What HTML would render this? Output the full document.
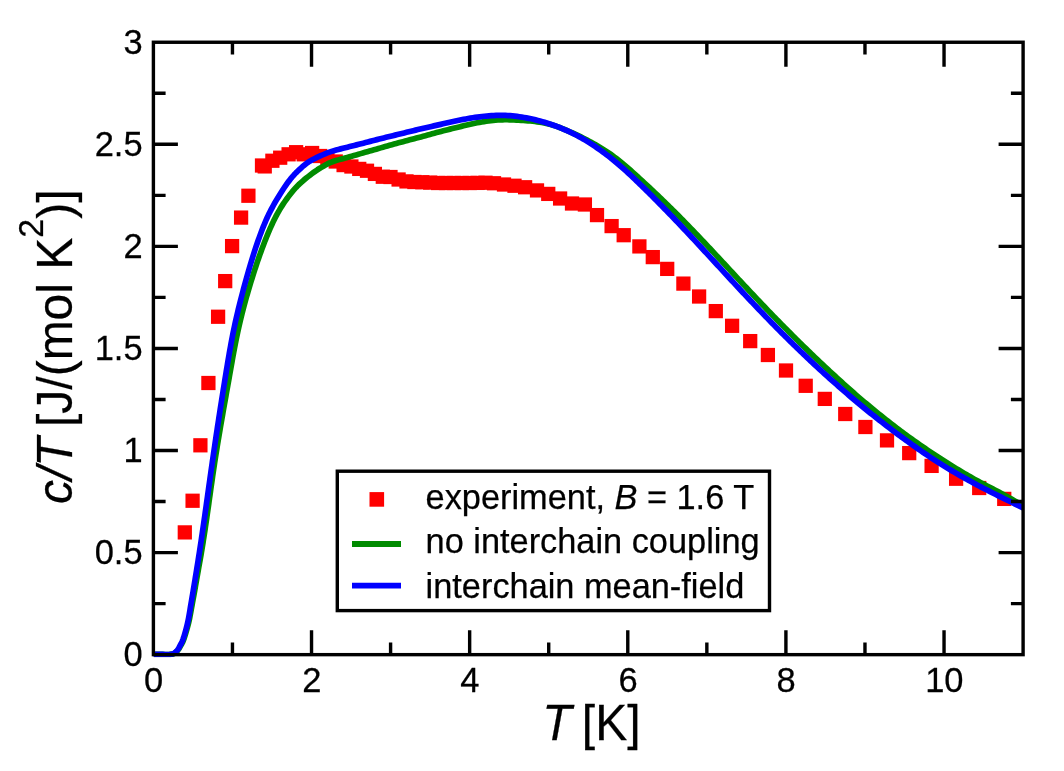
<!DOCTYPE html>
<html><head><meta charset="utf-8"><title>c/T vs T</title>
<style>html,body{margin:0;padding:0;background:#fff;}svg{display:block;}</style>
</head><body>
<svg width="1064" height="771" viewBox="0 0 1064 771">
<rect width="1064" height="771" fill="#fff"/>
<defs><clipPath id="c"><rect x="153.40" y="42.25" width="869.70" height="615.00"/></clipPath></defs>
<g fill="#ff0000">
<rect x="177.68" y="525.27" width="14.25" height="14.25"/>
<rect x="185.47" y="493.62" width="14.25" height="14.25"/>
<rect x="193.28" y="438.18" width="14.25" height="14.25"/>
<rect x="201.28" y="375.88" width="14.25" height="14.25"/>
<rect x="210.97" y="309.62" width="14.25" height="14.25"/>
<rect x="218.07" y="273.98" width="14.25" height="14.25"/>
<rect x="224.97" y="238.97" width="14.25" height="14.25"/>
<rect x="233.97" y="210.47" width="14.25" height="14.25"/>
<rect x="241.28" y="188.62" width="14.25" height="14.25"/>
<rect x="254.88" y="158.38" width="14.25" height="14.25"/>
<rect x="257.62" y="159.28" width="14.25" height="14.25"/>
<rect x="265.27" y="153.62" width="14.25" height="14.25"/>
<rect x="273.07" y="150.57" width="14.25" height="14.25"/>
<rect x="281.48" y="147.18" width="14.25" height="14.25"/>
<rect x="288.98" y="145.07" width="14.25" height="14.25"/>
<rect x="296.57" y="147.18" width="14.25" height="14.25"/>
<rect x="304.98" y="145.88" width="14.25" height="14.25"/>
<rect x="312.98" y="148.88" width="14.25" height="14.25"/>
<rect x="320.27" y="150.88" width="14.25" height="14.25"/>
<rect x="328.62" y="154.38" width="14.25" height="14.25"/>
<rect x="336.48" y="157.97" width="14.25" height="14.25"/>
<rect x="344.27" y="159.38" width="14.25" height="14.25"/>
<rect x="352.12" y="161.78" width="14.25" height="14.25"/>
<rect x="359.88" y="163.62" width="14.25" height="14.25"/>
<rect x="367.77" y="166.78" width="14.25" height="14.25"/>
<rect x="375.68" y="169.62" width="14.25" height="14.25"/>
<rect x="383.38" y="169.88" width="14.25" height="14.25"/>
<rect x="391.48" y="172.38" width="14.25" height="14.25"/>
<rect x="399.38" y="174.28" width="14.25" height="14.25"/>
<rect x="407.27" y="174.88" width="14.25" height="14.25"/>
<rect x="415.18" y="175.12" width="14.25" height="14.25"/>
<rect x="423.07" y="175.47" width="14.25" height="14.25"/>
<rect x="430.98" y="175.88" width="14.25" height="14.25"/>
<rect x="438.88" y="175.88" width="14.25" height="14.25"/>
<rect x="446.77" y="175.88" width="14.25" height="14.25"/>
<rect x="454.68" y="175.88" width="14.25" height="14.25"/>
<rect x="462.57" y="175.88" width="14.25" height="14.25"/>
<rect x="470.48" y="175.78" width="14.25" height="14.25"/>
<rect x="478.38" y="175.62" width="14.25" height="14.25"/>
<rect x="486.88" y="176.12" width="14.25" height="14.25"/>
<rect x="496.88" y="177.38" width="14.25" height="14.25"/>
<rect x="507.38" y="178.62" width="14.25" height="14.25"/>
<rect x="517.98" y="180.12" width="14.25" height="14.25"/>
<rect x="529.88" y="183.28" width="14.25" height="14.25"/>
<rect x="541.12" y="186.78" width="14.25" height="14.25"/>
<rect x="552.98" y="191.38" width="14.25" height="14.25"/>
<rect x="564.88" y="196.38" width="14.25" height="14.25"/>
<rect x="577.77" y="197.38" width="14.25" height="14.25"/>
<rect x="589.88" y="207.97" width="14.25" height="14.25"/>
<rect x="604.48" y="218.97" width="14.25" height="14.25"/>
<rect x="616.58" y="228.07" width="14.25" height="14.25"/>
<rect x="632.27" y="239.28" width="14.25" height="14.25"/>
<rect x="645.67" y="249.98" width="14.25" height="14.25"/>
<rect x="660.08" y="261.77" width="14.25" height="14.25"/>
<rect x="676.27" y="276.48" width="14.25" height="14.25"/>
<rect x="691.98" y="289.38" width="14.25" height="14.25"/>
<rect x="708.67" y="303.98" width="14.25" height="14.25"/>
<rect x="724.98" y="318.68" width="14.25" height="14.25"/>
<rect x="743.08" y="333.98" width="14.25" height="14.25"/>
<rect x="760.77" y="347.88" width="14.25" height="14.25"/>
<rect x="778.88" y="363.38" width="14.25" height="14.25"/>
<rect x="798.58" y="378.68" width="14.25" height="14.25"/>
<rect x="817.67" y="391.77" width="14.25" height="14.25"/>
<rect x="838.12" y="406.88" width="14.25" height="14.25"/>
<rect x="858.27" y="419.88" width="14.25" height="14.25"/>
<rect x="879.88" y="433.27" width="14.25" height="14.25"/>
<rect x="902.08" y="445.98" width="14.25" height="14.25"/>
<rect x="924.48" y="458.77" width="14.25" height="14.25"/>
<rect x="948.98" y="471.62" width="14.25" height="14.25"/>
<rect x="972.08" y="480.88" width="14.25" height="14.25"/>
<rect x="997.12" y="491.77" width="14.25" height="14.25"/>
</g>
<g fill="none" stroke-width="5.7" stroke-linejoin="round" clip-path="url(#c)">
<path stroke="#008b00" d="M153.50,654.50 L155.88,654.36 L158.21,654.33 L160.52,654.38 L162.80,654.45 L165.09,654.50 L167.38,654.50 L169.71,654.41 L172.06,654.17 L174.28,653.52 L176.10,652.11 L177.73,650.44 L179.05,648.55 L180.18,646.51 L181.38,644.53 L182.48,642.50 L183.41,640.38 L184.21,638.20 L184.93,635.98 L185.61,633.75 L186.27,631.52 L186.91,629.29 L187.53,627.06 L188.12,624.82 L188.67,622.57 L189.18,620.31 L189.65,618.05 L190.09,615.77 L190.52,613.49 L190.93,611.21 L191.33,608.92 L191.75,606.64 L192.17,604.36 L192.59,602.08 L193.01,599.80 L193.44,597.52 L193.86,595.24 L194.27,592.96 L194.68,590.68 L195.08,588.40 L195.48,586.12 L195.88,583.83 L196.28,581.55 L196.67,579.27 L197.07,576.98 L197.47,574.70 L197.87,572.41 L198.28,570.13 L198.69,567.85 L199.10,565.57 L199.51,563.29 L199.92,561.01 L200.33,558.72 L200.72,556.44 L201.12,554.16 L201.50,551.87 L201.89,549.59 L202.26,547.30 L202.63,545.01 L203.00,542.72 L203.36,540.43 L203.72,538.14 L204.08,535.85 L204.43,533.56 L204.78,531.27 L205.12,528.98 L205.46,526.68 L205.80,524.39 L206.13,522.10 L206.47,519.80 L206.80,517.51 L207.13,515.21 L207.45,512.92 L207.78,510.62 L208.10,508.33 L208.43,506.03 L208.75,503.74 L209.07,501.44 L209.39,499.14 L209.71,496.85 L210.04,494.55 L210.36,492.26 L210.68,489.96 L211.00,487.66 L211.33,485.37 L211.66,483.07 L211.98,480.78 L212.31,478.48 L212.64,476.19 L212.98,473.89 L213.31,471.60 L213.65,469.31 L213.99,467.01 L214.34,464.72 L214.69,462.43 L215.04,460.14 L215.39,457.85 L215.75,455.56 L216.11,453.27 L216.48,450.98 L216.85,448.69 L217.22,446.41 L217.59,444.12 L217.97,441.83 L218.34,439.54 L218.73,437.26 L219.11,434.97 L219.49,432.69 L219.88,430.40 L220.27,428.12 L220.66,425.83 L221.06,423.55 L221.45,421.26 L221.85,418.98 L222.25,416.70 L222.65,414.41 L223.05,412.13 L223.45,409.85 L223.85,407.56 L224.26,405.28 L224.66,403.00 L225.07,400.72 L225.47,398.43 L225.88,396.15 L226.28,393.87 L226.69,391.59 L227.10,389.30 L227.51,387.02 L227.91,384.74 L228.32,382.46 L228.73,380.17 L229.13,377.89 L229.54,375.61 L229.94,373.32 L230.35,371.04 L230.75,368.76 L231.16,366.47 L231.56,364.19 L231.97,361.91 L232.38,359.62 L232.79,357.34 L233.20,355.06 L233.62,352.78 L234.05,350.50 L234.47,348.22 L234.91,345.95 L235.35,343.67 L235.79,341.40 L236.25,339.12 L236.71,336.85 L237.18,334.58 L237.66,332.32 L238.15,330.05 L238.65,327.79 L239.16,325.53 L239.68,323.27 L240.21,321.01 L240.75,318.76 L241.30,316.51 L241.86,314.26 L242.43,312.01 L243.01,309.76 L243.59,307.52 L244.19,305.28 L244.80,303.04 L245.41,300.81 L246.03,298.57 L246.66,296.34 L247.30,294.11 L247.94,291.88 L248.59,289.66 L249.25,287.43 L249.92,285.21 L250.59,282.99 L251.27,280.77 L251.95,278.56 L252.64,276.34 L253.34,274.13 L254.05,271.92 L254.76,269.71 L255.48,267.51 L256.21,265.31 L256.94,263.11 L257.69,260.91 L258.44,258.72 L259.21,256.53 L259.98,254.35 L260.77,252.17 L261.56,249.99 L262.37,247.81 L263.18,245.64 L264.01,243.48 L264.85,241.32 L265.70,239.16 L266.57,237.01 L267.44,234.86 L268.34,232.72 L269.24,230.58 L270.16,228.45 L271.10,226.33 L272.06,224.22 L273.05,222.12 L274.06,220.03 L275.09,217.96 L276.16,215.90 L277.26,213.86 L278.39,211.83 L279.55,209.83 L280.75,207.84 L281.98,205.88 L283.25,203.93 L284.54,202.01 L285.87,200.10 L287.22,198.22 L288.61,196.35 L290.03,194.51 L291.47,192.69 L292.95,190.90 L294.47,189.15 L296.03,187.43 L297.63,185.76 L299.28,184.13 L300.98,182.56 L302.72,181.03 L304.49,179.53 L306.29,178.07 L308.11,176.62 L309.94,175.19 L311.78,173.78 L313.64,172.40 L315.53,171.06 L317.45,169.77 L319.41,168.53 L321.40,167.33 L323.41,166.17 L325.43,165.03 L327.48,163.93 L329.56,162.91 L331.69,162.01 L333.86,161.22 L336.08,160.52 L338.31,159.88 L340.55,159.27 L342.79,158.65 L345.03,158.03 L347.26,157.41 L349.49,156.79 L351.72,156.16 L353.95,155.53 L356.18,154.90 L358.41,154.26 L360.63,153.63 L362.86,152.99 L365.09,152.36 L367.32,151.72 L369.55,151.08 L371.77,150.44 L374.00,149.80 L376.23,149.16 L378.46,148.52 L380.69,147.88 L382.92,147.25 L385.15,146.61 L387.38,145.98 L389.61,145.35 L391.84,144.72 L394.07,144.09 L396.31,143.47 L398.54,142.86 L400.78,142.25 L403.02,141.65 L405.26,141.05 L407.50,140.45 L409.74,139.86 L411.98,139.27 L414.22,138.68 L416.46,138.08 L418.70,137.48 L420.94,136.88 L423.17,136.27 L425.41,135.66 L427.64,135.04 L429.88,134.43 L432.12,133.81 L434.35,133.20 L436.59,132.60 L438.83,132.00 L441.07,131.41 L443.31,130.83 L445.56,130.25 L447.81,129.68 L450.05,129.12 L452.30,128.56 L454.56,128.01 L456.81,127.46 L459.06,126.92 L461.32,126.37 L463.57,125.83 L465.83,125.30 L468.08,124.77 L470.34,124.25 L472.61,123.75 L474.87,123.27 L477.15,122.81 L479.42,122.37 L481.71,121.96 L484.00,121.58 L486.29,121.24 L488.59,120.92 L490.90,120.65 L493.20,120.40 L495.52,120.20 L497.83,120.03 L500.14,119.90 L502.46,119.81 L504.77,119.77 L507.09,119.76 L509.40,119.79 L511.72,119.84 L514.04,119.93 L516.35,120.04 L518.67,120.17 L520.99,120.31 L523.31,120.47 L525.63,120.64 L527.96,120.82 L530.28,121.03 L532.59,121.25 L534.91,121.51 L537.21,121.80 L539.51,122.13 L541.80,122.50 L544.08,122.93 L546.34,123.40 L548.59,123.93 L550.82,124.53 L553.04,125.18 L555.23,125.90 L557.42,126.67 L559.59,127.48 L561.75,128.33 L563.91,129.21 L566.05,130.12 L568.18,131.05 L570.31,131.99 L572.44,132.95 L574.56,133.92 L576.67,134.91 L578.77,135.91 L580.87,136.92 L582.95,137.96 L585.03,139.00 L587.10,140.07 L589.15,141.15 L591.20,142.26 L593.23,143.38 L595.25,144.52 L597.26,145.68 L599.26,146.87 L601.23,148.07 L603.20,149.30 L605.15,150.55 L607.08,151.82 L608.99,153.12 L610.89,154.45 L612.77,155.80 L614.63,157.17 L616.48,158.57 L618.30,159.99 L620.11,161.44 L621.91,162.90 L623.69,164.38 L625.47,165.88 L627.23,167.39 L628.98,168.92 L630.72,170.45 L632.45,172.00 L634.18,173.55 L635.90,175.11 L637.61,176.68 L639.32,178.25 L641.03,179.82 L642.74,181.39 L644.44,182.97 L646.14,184.54 L647.84,186.12 L649.54,187.70 L651.23,189.28 L652.92,190.87 L654.60,192.46 L656.29,194.05 L657.97,195.65 L659.64,197.25 L661.31,198.85 L662.98,200.46 L664.65,202.07 L666.31,203.69 L667.97,205.31 L669.62,206.93 L671.27,208.56 L672.92,210.19 L674.56,211.83 L676.20,213.47 L677.84,215.11 L679.47,216.76 L681.10,218.40 L682.73,220.06 L684.35,221.71 L685.97,223.37 L687.59,225.03 L689.20,226.69 L690.81,228.36 L692.42,230.03 L694.03,231.70 L695.63,233.37 L697.23,235.05 L698.83,236.73 L700.43,238.41 L702.02,240.09 L703.61,241.78 L705.20,243.47 L706.79,245.16 L708.38,246.85 L709.96,248.54 L711.54,250.23 L713.12,251.93 L714.70,253.62 L716.28,255.32 L717.86,257.02 L719.44,258.72 L721.02,260.42 L722.59,262.11 L724.17,263.81 L725.75,265.51 L727.32,267.21 L728.90,268.91 L730.47,270.61 L732.05,272.31 L733.63,274.01 L735.21,275.71 L736.78,277.41 L738.36,279.10 L739.94,280.80 L741.53,282.49 L743.11,284.19 L744.69,285.88 L746.28,287.57 L747.86,289.26 L749.45,290.95 L751.04,292.64 L752.63,294.32 L754.22,296.01 L755.82,297.69 L757.41,299.38 L759.01,301.06 L760.61,302.74 L762.20,304.41 L763.81,306.09 L765.41,307.77 L767.01,309.44 L768.62,311.11 L770.23,312.78 L771.84,314.45 L773.45,316.11 L775.07,317.77 L776.68,319.43 L778.31,321.09 L779.93,322.75 L781.55,324.40 L783.18,326.05 L784.81,327.70 L786.45,329.34 L788.08,330.98 L789.72,332.62 L791.36,334.26 L793.00,335.90 L794.65,337.53 L796.29,339.16 L797.94,340.79 L799.59,342.42 L801.25,344.05 L802.90,345.67 L804.56,347.29 L806.22,348.91 L807.88,350.53 L809.54,352.14 L811.21,353.75 L812.88,355.36 L814.55,356.96 L816.23,358.57 L817.90,360.16 L819.59,361.76 L821.27,363.35 L822.96,364.94 L824.66,366.52 L826.35,368.10 L828.05,369.68 L829.75,371.25 L831.46,372.82 L833.16,374.39 L834.87,375.96 L836.59,377.52 L838.30,379.08 L840.02,380.64 L841.74,382.19 L843.46,383.75 L845.18,385.30 L846.91,386.84 L848.64,388.39 L850.37,389.93 L852.10,391.46 L853.85,392.99 L855.59,394.52 L857.34,396.04 L859.10,397.55 L860.86,399.06 L862.62,400.56 L864.39,402.06 L866.17,403.55 L867.95,405.03 L869.74,406.51 L871.53,407.98 L873.32,409.45 L875.12,410.92 L876.92,412.38 L878.72,413.84 L880.52,415.29 L882.33,416.74 L884.14,418.19 L885.96,419.63 L887.78,421.07 L889.60,422.50 L891.42,423.93 L893.26,425.35 L895.09,426.77 L896.93,428.18 L898.78,429.58 L900.63,430.97 L902.49,432.36 L904.35,433.74 L906.22,435.11 L908.10,436.47 L909.98,437.83 L911.86,439.18 L913.75,440.52 L915.64,441.86 L917.54,443.19 L919.44,444.51 L921.35,445.83 L923.26,447.15 L925.18,448.45 L927.09,449.76 L929.02,451.05 L930.94,452.34 L932.87,453.63 L934.81,454.90 L936.74,456.18 L938.68,457.44 L940.63,458.71 L942.58,459.96 L944.53,461.21 L946.48,462.46 L948.44,463.69 L950.41,464.93 L952.38,466.15 L954.35,467.37 L956.33,468.58 L958.31,469.78 L960.29,470.98 L962.29,472.16 L964.28,473.34 L966.28,474.52 L968.29,475.68 L970.30,476.83 L972.32,477.97 L974.34,479.11 L976.37,480.23 L978.40,481.34 L980.44,482.44 L982.49,483.53 L984.54,484.61 L986.60,485.68 L988.65,486.75 L990.71,487.82 L992.77,488.88 L994.82,489.96 L996.88,491.04 L998.92,492.12 L1000.96,493.22 L1003.00,494.33 L1005.03,495.45 L1007.05,496.58 L1009.08,497.71 L1011.09,498.85 L1013.11,499.99 L1015.13,501.14 L1017.14,502.28 L1019.16,503.43 L1021.18,504.57 L1023.20,505.70"/>
<path stroke="#0000ff" d="M153.50,654.50 L155.91,654.36 L158.26,654.34 L160.59,654.39 L162.89,654.45 L165.20,654.50 L167.52,654.48 L169.87,654.36 L172.24,654.04 L174.37,653.16 L176.11,651.59 L177.70,649.87 L178.87,647.84 L179.98,645.77 L181.13,643.74 L182.13,641.63 L182.98,639.45 L183.72,637.22 L184.40,634.97 L185.05,632.71 L185.69,630.45 L186.30,628.19 L186.88,625.92 L187.43,623.65 L187.93,621.37 L188.40,619.08 L188.83,616.78 L189.23,614.48 L189.62,612.17 L190.00,609.85 L190.38,607.54 L190.76,605.23 L191.15,602.92 L191.54,600.62 L191.94,598.31 L192.33,596.00 L192.72,593.70 L193.11,591.39 L193.49,589.08 L193.88,586.77 L194.26,584.46 L194.63,582.15 L195.01,579.84 L195.38,577.53 L195.76,575.22 L196.13,572.91 L196.50,570.60 L196.88,568.29 L197.25,565.98 L197.62,563.67 L197.99,561.36 L198.35,559.04 L198.71,556.73 L199.07,554.42 L199.43,552.11 L199.79,549.79 L200.14,547.48 L200.49,545.17 L200.84,542.85 L201.18,540.54 L201.53,538.22 L201.87,535.91 L202.21,533.59 L202.55,531.28 L202.89,528.96 L203.22,526.64 L203.55,524.33 L203.89,522.01 L204.22,519.69 L204.55,517.38 L204.88,515.06 L205.21,512.74 L205.53,510.42 L205.86,508.11 L206.18,505.79 L206.51,503.47 L206.83,501.15 L207.16,498.83 L207.48,496.52 L207.81,494.20 L208.13,491.88 L208.45,489.56 L208.78,487.24 L209.10,484.93 L209.43,482.61 L209.75,480.29 L210.08,477.97 L210.40,475.65 L210.73,473.34 L211.06,471.02 L211.39,468.70 L211.72,466.38 L212.05,464.07 L212.38,461.75 L212.71,459.43 L213.05,457.12 L213.38,454.80 L213.72,452.49 L214.06,450.17 L214.40,447.85 L214.74,445.54 L215.08,443.22 L215.42,440.91 L215.76,438.59 L216.11,436.28 L216.46,433.96 L216.80,431.65 L217.15,429.34 L217.50,427.02 L217.85,424.71 L218.21,422.39 L218.56,420.08 L218.91,417.77 L219.27,415.45 L219.63,413.14 L219.98,410.83 L220.34,408.52 L220.70,406.20 L221.06,403.89 L221.43,401.58 L221.79,399.27 L222.16,396.95 L222.52,394.64 L222.89,392.33 L223.26,390.02 L223.63,387.71 L224.00,385.40 L224.37,383.08 L224.74,380.77 L225.11,378.46 L225.49,376.15 L225.86,373.84 L226.24,371.53 L226.62,369.22 L227.00,366.91 L227.38,364.60 L227.76,362.29 L228.15,359.98 L228.54,357.67 L228.94,355.37 L229.34,353.06 L229.74,350.75 L230.15,348.45 L230.57,346.15 L230.99,343.84 L231.42,341.54 L231.85,339.24 L232.29,336.95 L232.75,334.65 L233.20,332.35 L233.67,330.06 L234.15,327.77 L234.63,325.48 L235.13,323.19 L235.63,320.91 L236.15,318.63 L236.67,316.35 L237.20,314.07 L237.74,311.79 L238.28,309.51 L238.84,307.24 L239.40,304.97 L239.97,302.69 L240.54,300.43 L241.12,298.16 L241.71,295.89 L242.30,293.63 L242.90,291.36 L243.50,289.10 L244.11,286.84 L244.73,284.58 L245.35,282.32 L245.97,280.06 L246.60,277.81 L247.23,275.55 L247.87,273.30 L248.51,271.05 L249.16,268.80 L249.82,266.55 L250.48,264.31 L251.16,262.06 L251.84,259.82 L252.52,257.59 L253.22,255.35 L253.93,253.12 L254.64,250.89 L255.37,248.67 L256.11,246.45 L256.86,244.23 L257.62,242.01 L258.40,239.81 L259.18,237.60 L259.98,235.40 L260.80,233.20 L261.63,231.01 L262.47,228.83 L263.33,226.65 L264.22,224.48 L265.12,222.32 L266.05,220.17 L267.01,218.04 L267.99,215.91 L269.00,213.80 L270.04,211.71 L271.11,209.62 L272.21,207.56 L273.33,205.50 L274.48,203.46 L275.65,201.43 L276.84,199.41 L278.05,197.41 L279.27,195.41 L280.51,193.42 L281.76,191.45 L283.04,189.49 L284.33,187.53 L285.65,185.60 L286.99,183.68 L288.36,181.78 L289.77,179.91 L291.23,178.07 L292.73,176.28 L294.29,174.54 L295.91,172.85 L297.58,171.21 L299.28,169.60 L301.02,168.02 L302.78,166.47 L304.57,164.96 L306.41,163.51 L308.32,162.15 L310.29,160.91 L312.33,159.75 L314.41,158.68 L316.52,157.65 L318.64,156.65 L320.77,155.68 L322.91,154.74 L325.06,153.82 L327.23,152.94 L329.42,152.12 L331.64,151.36 L333.87,150.67 L336.13,150.05 L338.40,149.46 L340.67,148.88 L342.94,148.31 L345.21,147.74 L347.48,147.17 L349.75,146.60 L352.02,146.03 L354.29,145.46 L356.55,144.88 L358.82,144.30 L361.09,143.72 L363.35,143.14 L365.62,142.55 L367.89,141.96 L370.15,141.37 L372.42,140.79 L374.68,140.20 L376.95,139.62 L379.22,139.04 L381.49,138.47 L383.76,137.90 L386.03,137.34 L388.30,136.78 L390.58,136.23 L392.85,135.68 L395.13,135.13 L397.40,134.57 L399.68,134.02 L401.95,133.46 L404.22,132.90 L406.49,132.34 L408.77,131.78 L411.04,131.22 L413.31,130.67 L415.59,130.11 L417.86,129.57 L420.14,129.03 L422.42,128.49 L424.70,127.97 L426.98,127.45 L429.26,126.93 L431.55,126.41 L433.83,125.90 L436.11,125.38 L438.39,124.87 L440.68,124.35 L442.96,123.82 L445.24,123.30 L447.52,122.77 L449.80,122.25 L452.09,121.74 L454.37,121.23 L456.66,120.74 L458.95,120.26 L461.25,119.80 L463.54,119.36 L465.84,118.94 L468.15,118.53 L470.46,118.15 L472.77,117.79 L475.09,117.44 L477.41,117.12 L479.73,116.82 L482.06,116.54 L484.39,116.29 L486.72,116.06 L489.05,115.85 L491.39,115.68 L493.73,115.54 L496.07,115.44 L498.41,115.37 L500.75,115.35 L503.09,115.37 L505.43,115.44 L507.76,115.55 L510.10,115.71 L512.43,115.91 L514.77,116.15 L517.09,116.43 L519.42,116.74 L521.73,117.09 L524.05,117.48 L526.35,117.89 L528.65,118.34 L530.95,118.82 L533.23,119.33 L535.51,119.87 L537.79,120.44 L540.05,121.04 L542.31,121.66 L544.56,122.32 L546.80,123.01 L549.03,123.73 L551.25,124.47 L553.46,125.24 L555.67,126.04 L557.86,126.86 L560.04,127.72 L562.21,128.60 L564.37,129.51 L566.51,130.45 L568.65,131.42 L570.76,132.41 L572.87,133.44 L574.96,134.49 L577.04,135.57 L579.10,136.68 L581.15,137.81 L583.19,138.98 L585.21,140.16 L587.21,141.37 L589.21,142.61 L591.19,143.87 L593.15,145.15 L595.10,146.45 L597.04,147.78 L598.96,149.12 L600.88,150.48 L602.77,151.87 L604.66,153.27 L606.53,154.69 L608.38,156.12 L610.23,157.57 L612.06,159.04 L613.87,160.52 L615.68,162.02 L617.47,163.53 L619.25,165.05 L621.02,166.58 L622.78,168.13 L624.53,169.68 L626.27,171.25 L628.00,172.83 L629.72,174.41 L631.43,176.01 L633.14,177.61 L634.84,179.22 L636.53,180.83 L638.22,182.45 L639.90,184.08 L641.58,185.71 L643.26,187.34 L644.93,188.98 L646.59,190.63 L648.26,192.27 L649.92,193.92 L651.57,195.58 L653.22,197.24 L654.87,198.90 L656.52,200.56 L658.17,202.23 L659.81,203.89 L661.45,205.56 L663.08,207.24 L664.72,208.91 L666.35,210.59 L667.98,212.27 L669.61,213.95 L671.24,215.63 L672.86,217.32 L674.48,219.01 L676.10,220.70 L677.72,222.39 L679.33,224.08 L680.94,225.78 L682.55,227.48 L684.16,229.18 L685.76,230.89 L687.36,232.60 L688.96,234.30 L690.56,236.01 L692.16,237.72 L693.75,239.44 L695.35,241.15 L696.94,242.86 L698.53,244.58 L700.13,246.30 L701.72,248.01 L703.31,249.73 L704.90,251.45 L706.48,253.17 L708.07,254.88 L709.66,256.60 L711.25,258.32 L712.84,260.04 L714.42,261.77 L716.01,263.49 L717.59,265.21 L719.18,266.93 L720.76,268.65 L722.35,270.37 L723.94,272.09 L725.52,273.82 L727.11,275.54 L728.69,277.26 L730.28,278.98 L731.87,280.70 L733.46,282.42 L735.05,284.13 L736.64,285.85 L738.23,287.56 L739.83,289.28 L741.43,290.99 L743.02,292.70 L744.63,294.40 L746.23,296.11 L747.83,297.81 L749.44,299.51 L751.05,301.21 L752.66,302.91 L754.27,304.61 L755.89,306.30 L757.50,307.99 L759.12,309.68 L760.74,311.37 L762.36,313.06 L763.99,314.75 L765.61,316.43 L767.24,318.11 L768.87,319.79 L770.51,321.47 L772.14,323.14 L773.78,324.82 L775.42,326.49 L777.06,328.15 L778.71,329.82 L780.36,331.48 L782.01,333.14 L783.66,334.79 L785.32,336.44 L786.98,338.09 L788.64,339.74 L790.31,341.38 L791.98,343.02 L793.65,344.66 L795.33,346.29 L797.01,347.92 L798.69,349.55 L800.37,351.18 L802.06,352.80 L803.75,354.42 L805.44,356.04 L807.14,357.65 L808.84,359.26 L810.54,360.86 L812.25,362.47 L813.96,364.06 L815.67,365.66 L817.39,367.25 L819.11,368.83 L820.84,370.41 L822.57,371.99 L824.30,373.56 L826.04,375.13 L827.78,376.70 L829.52,378.26 L831.27,379.82 L833.02,381.37 L834.77,382.92 L836.53,384.47 L838.28,386.01 L840.04,387.56 L841.81,389.10 L843.57,390.64 L845.34,392.17 L847.11,393.70 L848.88,395.23 L850.66,396.76 L852.44,398.27 L854.22,399.79 L856.01,401.30 L857.80,402.80 L859.60,404.30 L861.41,405.79 L863.21,407.28 L865.03,408.76 L866.84,410.23 L868.67,411.70 L870.49,413.16 L872.32,414.62 L874.16,416.08 L875.99,417.53 L877.83,418.97 L879.68,420.42 L881.52,421.86 L883.37,423.29 L885.22,424.73 L887.08,426.15 L888.93,427.58 L890.80,429.00 L892.66,430.41 L894.53,431.82 L896.40,433.23 L898.28,434.62 L900.16,436.02 L902.04,437.40 L903.93,438.78 L905.83,440.16 L907.73,441.53 L909.63,442.89 L911.53,444.25 L913.44,445.61 L915.36,446.95 L917.27,448.30 L919.19,449.64 L921.11,450.97 L923.04,452.30 L924.97,453.63 L926.91,454.94 L928.85,456.26 L930.79,457.56 L932.74,458.85 L934.70,460.14 L936.66,461.41 L938.63,462.68 L940.60,463.93 L942.59,465.17 L944.58,466.40 L946.58,467.62 L948.58,468.83 L950.59,470.03 L952.60,471.22 L954.63,472.41 L956.65,473.58 L958.68,474.75 L960.71,475.91 L962.75,477.06 L964.79,478.20 L966.84,479.34 L968.89,480.47 L970.94,481.60 L973.00,482.72 L975.06,483.83 L977.12,484.93 L979.19,486.02 L981.26,487.11 L983.34,488.19 L985.42,489.27 L987.50,490.33 L989.59,491.39 L991.68,492.45 L993.77,493.50 L995.86,494.55 L997.96,495.59 L1000.05,496.63 L1002.15,497.66 L1004.25,498.69 L1006.36,499.72 L1008.46,500.75 L1010.56,501.77 L1012.67,502.80 L1014.77,503.82 L1016.88,504.84 L1018.99,505.86 L1021.09,506.88 L1023.20,507.90"/>
</g>
<g stroke="#000" stroke-width="3.4" fill="none">
<rect x="153.4" y="42.25" width="869.70" height="612.4"/>
<path d="M232.46,654.65 v-12.2 M232.46,42.25 v12.2 M311.53,654.65 v-24.5 M311.53,42.25 v24.5 M390.59,654.65 v-12.2 M390.59,42.25 v12.2 M469.65,654.65 v-24.5 M469.65,42.25 v24.5 M548.72,654.65 v-12.2 M548.72,42.25 v12.2 M627.78,654.65 v-24.5 M627.78,42.25 v24.5 M706.85,654.65 v-12.2 M706.85,42.25 v12.2 M785.91,654.65 v-24.5 M785.91,42.25 v24.5 M864.97,654.65 v-12.2 M864.97,42.25 v12.2 M944.04,654.65 v-24.5 M944.04,42.25 v24.5 M153.4,603.62 h12.2 M1023.1,603.62 h-12.2 M153.4,552.58 h24.5 M1023.1,552.58 h-24.5 M153.4,501.55 h12.2 M1023.1,501.55 h-12.2 M153.4,450.52 h24.5 M1023.1,450.52 h-24.5 M153.4,399.48 h12.2 M1023.1,399.48 h-12.2 M153.4,348.45 h24.5 M1023.1,348.45 h-24.5 M153.4,297.42 h12.2 M1023.1,297.42 h-12.2 M153.4,246.38 h24.5 M1023.1,246.38 h-24.5 M153.4,195.35 h12.2 M1023.1,195.35 h-12.2 M153.4,144.32 h24.5 M1023.1,144.32 h-24.5 M153.4,93.28 h12.2 M1023.1,93.28 h-12.2"/>
</g>
<text transform="translate(153.70,691.60) scale(1,1.02)" font-family="'Liberation Sans', sans-serif" font-size="34.5" text-anchor="middle" fill="#000" stroke="#000" stroke-width="0.25" style="filter:opacity(1)">0</text>
<text transform="translate(311.83,691.60) scale(1,1.02)" font-family="'Liberation Sans', sans-serif" font-size="34.5" text-anchor="middle" fill="#000" stroke="#000" stroke-width="0.25" style="filter:opacity(1)">2</text>
<text transform="translate(469.95,691.60) scale(1,1.02)" font-family="'Liberation Sans', sans-serif" font-size="34.5" text-anchor="middle" fill="#000" stroke="#000" stroke-width="0.25" style="filter:opacity(1)">4</text>
<text transform="translate(628.08,691.60) scale(1,1.02)" font-family="'Liberation Sans', sans-serif" font-size="34.5" text-anchor="middle" fill="#000" stroke="#000" stroke-width="0.25" style="filter:opacity(1)">6</text>
<text transform="translate(786.21,691.60) scale(1,1.02)" font-family="'Liberation Sans', sans-serif" font-size="34.5" text-anchor="middle" fill="#000" stroke="#000" stroke-width="0.25" style="filter:opacity(1)">8</text>
<text transform="translate(944.34,691.60) scale(1,1.02)" font-family="'Liberation Sans', sans-serif" font-size="34.5" text-anchor="middle" fill="#000" stroke="#000" stroke-width="0.25" style="filter:opacity(1)">10</text>
<text transform="translate(142.60,666.35) scale(1,1.02)" font-family="'Liberation Sans', sans-serif" font-size="34.5" text-anchor="end" fill="#000" stroke="#000" stroke-width="0.25" style="filter:opacity(1)">0</text>
<text transform="translate(142.60,564.28) scale(1,1.02)" font-family="'Liberation Sans', sans-serif" font-size="34.5" text-anchor="end" fill="#000" stroke="#000" stroke-width="0.25" style="filter:opacity(1)">0.5</text>
<text transform="translate(142.60,462.22) scale(1,1.02)" font-family="'Liberation Sans', sans-serif" font-size="34.5" text-anchor="end" fill="#000" stroke="#000" stroke-width="0.25" style="filter:opacity(1)">1</text>
<text transform="translate(142.60,360.15) scale(1,1.02)" font-family="'Liberation Sans', sans-serif" font-size="34.5" text-anchor="end" fill="#000" stroke="#000" stroke-width="0.25" style="filter:opacity(1)">1.5</text>
<text transform="translate(142.60,258.08) scale(1,1.02)" font-family="'Liberation Sans', sans-serif" font-size="34.5" text-anchor="end" fill="#000" stroke="#000" stroke-width="0.25" style="filter:opacity(1)">2</text>
<text transform="translate(142.60,156.02) scale(1,1.02)" font-family="'Liberation Sans', sans-serif" font-size="34.5" text-anchor="end" fill="#000" stroke="#000" stroke-width="0.25" style="filter:opacity(1)">2.5</text>
<text transform="translate(142.60,53.95) scale(1,1.02)" font-family="'Liberation Sans', sans-serif" font-size="34.5" text-anchor="end" fill="#000" stroke="#000" stroke-width="0.25" style="filter:opacity(1)">3</text>
<text transform="translate(542.20,739.90) scale(1,1.045)" font-family="'Liberation Sans', sans-serif" font-size="48" text-anchor="start" fill="#000" stroke="#000" stroke-width="0.25" style="filter:opacity(1)"><tspan font-style="italic">T</tspan><tspan dx="-3"> [K]</tspan></text>
<text transform="translate(72.30,504.00) rotate(-90) scale(1,1.03)" font-family="'Liberation Sans', sans-serif" font-size="48" text-anchor="start" fill="#000" stroke="#000" stroke-width="0.25" style="filter:opacity(1)"><tspan font-style="italic">c/T</tspan><tspan dx="-3"> [J/(mol K</tspan><tspan font-size="34" dy="-28.16">2</tspan><tspan dy="28.16">)]</tspan></text>
<rect x="337.3" y="471.2" width="432.20" height="139.40" fill="#fff" stroke="#000" stroke-width="3.4"/>
<rect x="369.50" y="492.10" width="14.6" height="14.6" fill="#ff0000"/>
<path d="M352,543.9 H401" stroke="#008b00" stroke-width="6" fill="none"/>
<path d="M352,585.6 H401" stroke="#0000ff" stroke-width="5.6" fill="none"/>
<text transform="translate(425.60,508.50) scale(1,1.0)" font-family="'Liberation Sans', sans-serif" font-size="34.35" text-anchor="start" fill="#000" stroke="#000" stroke-width="0.25" style="filter:opacity(1)">experiment, <tspan font-style="italic">B</tspan> = 1.6 T</text>
<text transform="translate(425.60,552.70) scale(1,1.0)" font-family="'Liberation Sans', sans-serif" font-size="34.35" text-anchor="start" fill="#000" stroke="#000" stroke-width="0.25" style="filter:opacity(1)">no interchain coupling</text>
<text transform="translate(425.60,597.90) scale(1,1.0)" font-family="'Liberation Sans', sans-serif" font-size="34.35" text-anchor="start" fill="#000" stroke="#000" stroke-width="0.25" style="filter:opacity(1)">interchain mean-field</text>
</svg>
</body></html>
